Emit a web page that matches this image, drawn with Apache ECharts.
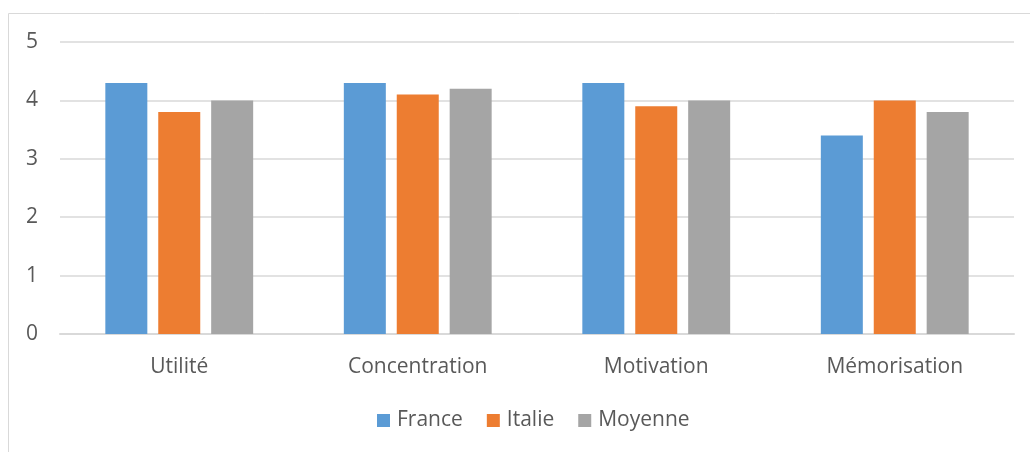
<!DOCTYPE html>
<html>
<head>
<meta charset="utf-8">
<script src="https://cdn.jsdelivr.net/npm/echarts@6/dist/echarts.min.js"></script>
<style>
  html, body { margin: 0; padding: 0; background: #fff; }
  #main { width: 1030px; height: 452px; }
</style>
</head>
<body>
<div id="main"></div>
<script>
var categories = ['Utilité', 'Concentration', 'Motivation', 'Mémorisation'];
var france = [4.3, 4.3, 4.3, 3.4];
var italie = [3.8, 4.1, 3.9, 4.0];
var moyenne = [4.0, 4.2, 4.0, 3.8];

var txt = '#595959';
var font = 'Open Sans';

var myChart = echarts.init(document.getElementById('main'));

myChart.setOption({
    animation: false,
    textStyle: { fontFamily: font },
    graphic: [{
        type: 'rect',
        shape: { x: 8.5, y: 13.5, width: 1040, height: 460 },
        style: { fill: 'none', stroke: '#d9d9d9', lineWidth: 1 },
        silent: true
    }],
    grid: { left: 60, right: 16, top: 42, bottom: 118 },
    legend: {
        top: 405,
        left: 372,
        icon: 'rect',
        itemWidth: 13,
        itemHeight: 13,
        itemGap: 24,
        textStyle: { color: txt, fontSize: 21, fontFamily: font, padding: [0, 0, 0, 2] },
        data: ['France', 'Italie', 'Moyenne']
    },
    xAxis: {
        type: 'category',
        data: categories,
        axisLine: { lineStyle: { color: '#d9d9d9', width: 2 } },
        axisTick: { show: false },
        axisLabel: { color: txt, fontSize: 21, margin: 23, fontFamily: font }
    },
    yAxis: {
        type: 'value',
        min: 0,
        max: 5,
        interval: 1,
        axisLine: { show: false },
        axisTick: { show: false },
        splitLine: { lineStyle: { color: '#d9d9d9', width: 1.5 } },
        axisLabel: { color: txt, fontSize: 21, margin: 22, fontFamily: font }
    },
    series: [
        { name: 'France', type: 'bar', data: france, barWidth: 42, barGap: '26%',
          itemStyle: { color: '#5b9bd5' } },
        { name: 'Italie', type: 'bar', data: italie, barWidth: 42,
          itemStyle: { color: '#ed7d31' } },
        { name: 'Moyenne', type: 'bar', data: moyenne, barWidth: 42,
          itemStyle: { color: '#a5a5a5' } }
    ]
});
</script>
</body>
</html>
